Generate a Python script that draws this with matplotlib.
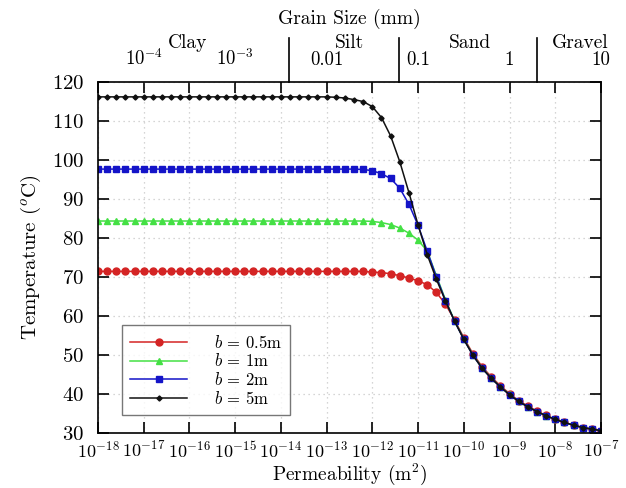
import matplotlib.pyplot as plt
import numpy as np
from matplotlib.transforms import blended_transform_factory

# ---------------------------------- STYLE -----------------------------------------
plt.rcParams['font.family'] = 'serif'
plt.rcParams['font.serif'] = ['cmr10', 'DejaVu Serif']
plt.rcParams['mathtext.fontset'] = 'cm'
plt.rcParams['axes.formatter.use_mathtext'] = True
plt.rcParams['font.size'] = 12.5

# ---------------------------------- DATA ------------------------------------------
# permeability sampled every 0.2 decade from 1e-18 to 1e-7 m^2
log_k = np.linspace(-18, -7, 56)
permeability = 10.0 ** log_k

temp_b05 = [71.4] * 30 + [
    71.2, 71.1, 70.8, 70.3, 69.7, 69.0, 68.0, 66.0, 63.0, 58.9,
    54.4, 50.3, 47.0, 44.4, 42.1, 40.1, 38.3, 36.9, 35.6, 34.5,
    33.5, 32.7, 32.0, 31.4, 31.0, 30.6]
temp_b1 = [84.3] * 30 + [
    84.2, 83.9, 83.4, 82.5, 81.2, 79.4, 76.6, 70.3, 64.1, 58.7,
    54.1, 50.0, 46.7, 44.1, 41.9, 39.9, 38.1, 36.7, 35.5, 34.4,
    33.5, 32.7, 32.0, 31.4, 31.0, 30.6]
temp_b2 = [97.6] * 29 + [
    97.5, 97.2, 96.4, 95.2, 92.7, 88.6, 83.2, 76.6, 70.0, 63.9,
    58.6, 54.0, 49.9, 46.6, 44.0, 41.8, 39.8, 38.1, 36.7, 35.5,
    34.4, 33.5, 32.7, 32.0, 31.4, 31.0, 30.6]
temp_b5 = [116.1] * 26 + [
    116.0, 115.8, 115.4, 114.9, 113.6, 110.8, 106.1, 99.5, 91.6, 83.3,
    75.7, 69.4, 63.8, 58.6, 54.0, 49.9, 46.6, 44.0, 41.8, 39.8,
    38.1, 36.7, 35.5, 34.4, 33.5, 32.7, 32.0, 31.4, 31.0, 30.6]

# grain size axis (mm), k = 1e-9 * d^2
grain_ticks = [1e-4, 1e-3, 0.01, 0.1, 1, 10]
grain_labels = ['$10^{-4}$', '$10^{-3}$', '0.01', '0.1', '1', '10']
class_bounds = [0.0039, 0.0625, 2.0]
class_names = ['Clay', 'Silt', 'Sand', 'Gravel']
class_pos = [3.0e-4, 0.018, 0.37, 5.9]


def grain_to_k(d):
    return 1e-9 * np.asarray(d) ** 2


# ---------------------------------- PLOT ------------------------------------------
fig = plt.figure(figsize=(6.26, 4.88), dpi=100)
ax = fig.add_axes([0.1565, 0.1127, 0.8035, 0.72])

series = [
    (temp_b05, '#d42424', 'o', 5.0, r'$b$ = 0.5m'),
    (temp_b1, '#44e044', '^', 4.0, r'$b$ = 1m'),
    (temp_b2, '#1414c8', 's', 4.8, r'$b$ = 2m'),
    (temp_b5, '#111111', 'D', 2.6, r'$b$ = 5m'),
]
for vals, color, marker, ms, label in series:
    ax.plot(permeability, vals, color=color, marker=marker, markersize=ms,
            linewidth=1.1, label=label)

ax.set_xscale('log')
ax.set_xlim(1e-18, 1e-7)
ax.set_ylim(30, 120)
ax.set_xticks(10.0 ** np.arange(-18, -6))
ax.set_yticks(np.arange(30, 121, 10))
ax.minorticks_off()
ax.grid(True, color='#c8c8c8', linestyle=(0, (1, 3)), linewidth=0.9)

ax.tick_params(direction='in', length=8, width=1.2, top=True, right=True)
ax.tick_params(axis='x', labelsize=13, pad=5)
ax.tick_params(axis='y', labelsize=15, pad=10)
for sp in ax.spines.values():
    sp.set_linewidth(1.2)

ax.set_xlabel('Permeability (m$^2$)', fontsize=14, labelpad=1)
ax.set_ylabel('Temperature ($^o$C)', fontsize=15, labelpad=6)

leg = ax.legend(loc='lower left', bbox_to_anchor=(0.048, 0.051),
                borderaxespad=0, fancybox=False, edgecolor='#555555',
                handlelength=3.4, handletextpad=1.6, borderpad=0.5,
                labelspacing=0.1, fontsize=12)
leg.get_frame().set_linewidth(1.0)

# grain size labels above the plot
trans = blended_transform_factory(ax.transData, ax.transAxes)
for d, lab in zip(grain_ticks, grain_labels):
    ax.text(grain_to_k(d), 1.035, lab, transform=trans, ha='center',
            va='bottom', fontsize=13.5)
for d in class_bounds:
    ax.plot([grain_to_k(d)] * 2, [1.0, 1.125], transform=trans,
            color='black', linewidth=1.2, clip_on=False)
for name, d in zip(class_names, class_pos):
    ax.text(grain_to_k(d), 1.085, name, transform=trans, ha='center',
            va='bottom', fontsize=14)
ax.text(0.5, 1.15, 'Grain Size (mm)', transform=ax.transAxes, ha='center',
        va='bottom', fontsize=14)

fig.savefig('out.png', dpi=100)
